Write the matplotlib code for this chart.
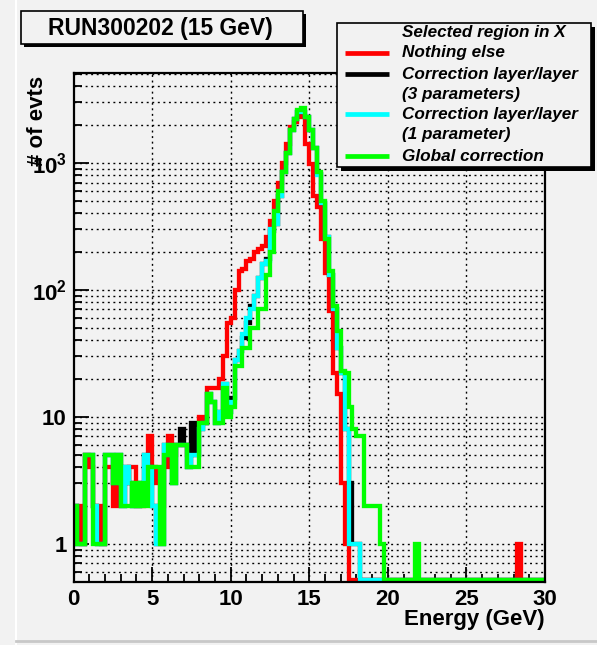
import numpy as np
import matplotlib
matplotlib.use("Agg")
import matplotlib.pyplot as plt
from matplotlib.patches import Rectangle
from matplotlib.lines import Line2D
from matplotlib.ticker import FixedLocator, FuncFormatter, NullFormatter

plt.rcParams["font.family"] = ["Liberation Sans", "DejaVu Sans"]
plt.rcParams["mathtext.fontset"] = "custom"
plt.rcParams["mathtext.rm"] = "Liberation Sans:bold"
plt.rcParams["mathtext.bf"] = "Liberation Sans:bold"
plt.rcParams["lines.scale_dashes"] = False

# Histogram binning (GeV): 120 bins of 0.25 GeV from 0 to 30
BIN_WIDTH = 0.25
FIRST_EDGE = 0.0

# Bin contents, one row per GeV (4 bins each)
nothing_else = [
    2, 2, 1, 5,          # 0-1
    4, 2, 2, 1,          # 1-2
    4, 4, 2, 3,          # 2-3
    3, 3, 4, 4,          # 3-4
    2, 2, 3, 7,          # 4-5
    4, 3, 2, 4,          # 5-6
    7, 5, 6, 6,          # 6-7
    6, 5, 6, 8,          # 7-8
    10, 9, 17, 17,       # 8-9
    17, 20, 30, 55,      # 9-10
    60, 100, 140, 145,   # 10-11
    170, 175, 200, 210,  # 11-12
    220, 260, 350, 500,  # 12-13
    700, 1000, 1400, 1900,   # 13-14
    2100, 2300, 2350, 1400,  # 14-15
    980, 550, 450, 250,  # 15-16
    135, 68, 22, 15,     # 16-17
    3, 1, 0, 0,          # 17-18
    0, 0, 0, 0,          # 18-19
    0, 0, 0, 0,          # 19-20
    0, 0, 0, 0,          # 20-21
    0, 0, 0, 0,          # 21-22
    0, 0, 0, 0,          # 22-23
    0, 0, 0, 0,          # 23-24
    0, 0, 0, 0,          # 24-25
    0, 0, 0, 0,          # 25-26
    0, 0, 0, 0,          # 26-27
    0, 0, 0, 0,          # 27-28
    0, 1, 0, 0,          # 28-29
    0, 0, 0, 0]          # 29-30

layer_3par = [
    2, 1, 1, 5,          # 0-1
    5, 2, 1, 1,          # 1-2
    5, 5, 3, 5,          # 2-3
    2, 4, 3, 2,          # 3-4
    2, 3, 5, 4,          # 4-5
    2, 1, 1, 6,          # 5-6
    5, 3, 6, 8,          # 6-7
    6, 4, 9, 5,          # 7-8
    8, 9, 15, 13,        # 8-9
    9, 11, 18, 11,       # 9-10
    14, 28, 33, 42,      # 10-11
    55, 75, 90, 125,     # 11-12
    160, 175, 290, 330,  # 12-13
    550, 850, 1200, 1800,    # 13-14
    2200, 2500, 2500, 2300,  # 14-15
    1800, 1300, 820, 480,    # 15-16
    260, 130, 70, 35,    # 16-17
    22, 8, 3, 1,         # 17-18
    1, 0, 0, 0,          # 18-19
    0, 0, 0, 0,          # 19-20
    0, 0, 0, 0,          # 20-21
    0, 0, 0, 0,          # 21-22
    0, 0, 0, 0,          # 22-23
    0, 0, 0, 0,          # 23-24
    0, 0, 0, 0,          # 24-25
    0, 0, 0, 0,          # 25-26
    0, 0, 0, 0,          # 26-27
    0, 0, 0, 0,          # 27-28
    0, 0, 0, 0,          # 28-29
    0, 0, 0, 0]          # 29-30

layer_1par = [
    2, 1, 1, 5,          # 0-1
    5, 2, 1, 1,          # 1-2
    5, 5, 3, 5,          # 2-3
    2, 4, 3, 2,          # 3-4
    2, 3, 5, 4,          # 4-5
    2, 1, 1, 6,          # 5-6
    5, 3, 6, 6,          # 6-7
    6, 4, 5, 5,          # 7-8
    8, 9, 15, 13,        # 8-9
    9, 11, 18, 11,       # 9-10
    13, 28, 33, 45,      # 10-11
    60, 70, 90, 125,     # 11-12
    160, 170, 300, 330,  # 12-13
    550, 850, 1200, 1800,    # 13-14
    2200, 2500, 2500, 2300,  # 14-15
    1800, 1300, 800, 480,    # 15-16
    260, 130, 70, 35,    # 16-17
    22, 8, 1, 1,         # 17-18
    1, 0, 0, 0,          # 18-19
    0, 0, 0, 0,          # 19-20
    0, 0, 0, 0,          # 20-21
    0, 0, 0, 0,          # 21-22
    0, 0, 0, 0,          # 22-23
    0, 0, 0, 0,          # 23-24
    0, 0, 0, 0,          # 24-25
    0, 0, 0, 0,          # 25-26
    0, 0, 0, 0,          # 26-27
    0, 0, 0, 0,          # 27-28
    0, 0, 0, 0,          # 28-29
    0, 0, 0, 0]          # 29-30

global_corr = [
    2, 1, 1, 5,          # 0-1
    5, 1, 1, 1,          # 1-2
    5, 5, 3, 5,          # 2-3
    2, 2, 2, 3,          # 3-4
    2, 3, 2, 4,          # 4-5
    4, 4, 1, 5,          # 5-6
    6, 3, 6, 6,          # 6-7
    6, 4, 4, 4,          # 7-8
    9, 9, 15, 13,        # 8-9
    9, 9, 17, 10,        # 9-10
    12, 25, 25, 35,      # 10-11
    35, 50, 50, 70,      # 11-12
    70, 130, 200, 420,   # 12-13
    600, 850, 1200, 1800,    # 13-14
    2200, 2600, 2700, 2300,  # 14-15
    1800, 1300, 850, 500,    # 15-16
    250, 140, 75, 47,    # 16-17
    23, 22, 12, 8,       # 17-18
    7, 7, 2, 2,          # 18-19
    2, 2, 1, 0,          # 19-20
    0, 0, 0, 0,          # 20-21
    0, 0, 0, 1,          # 21-22
    0, 0, 0, 0,          # 22-23
    0, 0, 0, 0,          # 23-24
    0, 0, 0, 0,          # 24-25
    0, 0, 0, 0,          # 25-26
    0, 0, 0, 0,          # 26-27
    0, 0, 0, 0,          # 27-28
    0, 0, 0, 0,          # 28-29
    0, 0, 0, 0]          # 29-30

series = [
    ("Nothing else", nothing_else, "#ff0000"),
    ("Correction layer/layer\n(3 parameters)", layer_3par, "#000000"),
    ("Correction layer/layer\n(1 parameter)", layer_1par, "#00ffff"),
    ("Global correction", global_corr, "#00ff00"),
]

x_ticks = [0, 5, 10, 15, 20, 25, 30]
y_tick_text = {1: "1", 10: "10", 100: r"$10^{2}$", 1000: r"$10^{3}$"}

BG = "#f2f2f2"
Y_MIN, Y_MAX = 0.5, 5100
ZERO_LEVEL = 0.515  # empty bins are drawn on the frame floor

W, H = 597, 645
fig = plt.figure(figsize=(W / 100, H / 100), dpi=100, facecolor=BG)


def fx(px):
    return px / W


def fy(py):
    return 1 - py / H


ax = fig.add_axes([fx(73.5), fy(582), fx(545) - fx(73.5), fy(73) - fy(582)])
ax.set_facecolor(BG)
ax.set_xlim(0, 30)
ax.set_yscale("log")
ax.set_ylim(Y_MIN, Y_MAX)

# dotted grid: x majors, every log-decade subdivision on y
grid_kw = dict(color="black", linewidth=1.0, linestyle=(0, (1.4, 2.6)), zorder=0.5)
for xv in x_ticks[1:-1]:
    ax.axvline(xv, **grid_kw)
for dec in [0.1, 1, 10, 100, 1000]:
    for m in range(1, 10):
        yv = dec * m
        if Y_MIN < yv < Y_MAX:
            ax.axhline(yv, **grid_kw)

n_bins = len(global_corr)
edges = FIRST_EDGE + BIN_WIDTH * np.arange(n_bins + 1)
for name, vals, col in series:
    v = np.asarray(vals, dtype=float)
    v = np.where(v > 0, v, ZERO_LEVEL)
    sp = ax.stairs(v, edges, baseline=None, color=col, linewidth=3.1, zorder=2)
    sp.set_joinstyle("miter")
    sp.set_capstyle("butt")

# axes frame and ticks
for s in ax.spines.values():
    s.set_linewidth(1.6)
    s.set_zorder(5)
ax.xaxis.set_major_locator(FixedLocator(x_ticks))
ax.xaxis.set_minor_locator(FixedLocator(np.arange(0, 31, 1)))
ax.yaxis.set_major_locator(FixedLocator(list(y_tick_text.keys())))
minor_y = [d * m for d in [0.1, 1, 10, 100, 1000] for m in range(2, 10) if Y_MIN <= d * m <= Y_MAX]
ax.yaxis.set_minor_locator(FixedLocator(minor_y))
ax.yaxis.set_major_formatter(FuncFormatter(lambda v, p: y_tick_text.get(int(round(v)), "")))
ax.yaxis.set_minor_formatter(NullFormatter())
ax.tick_params(axis="both", which="major", direction="in", length=11, width=1.3,
               labelsize=16, pad=5, top=False, right=False)
ax.tick_params(axis="both", which="minor", direction="in", length=6, width=1.3,
               top=False, right=False)
for lab in ax.get_xticklabels() + ax.get_yticklabels():
    lab.set_fontweight("bold")

ax.set_xlabel("Energy (GeV)", fontsize=16, fontweight="bold", ha="right", va="center")
ax.xaxis.set_label_coords(1.0, -0.073)
ax.set_ylabel("# of evts", fontsize=16, fontweight="bold", ha="center", va="center")
ax.yaxis.set_label_coords(-0.076, 0.905)


# boxes with a drop shadow
def shadow_box(x0, y0, x1, y1, off):
    fig.add_artist(Rectangle((fx(x0 + off), fy(y1 + off)), fx(x1 - x0), fy(y0) - fy(y1),
                             transform=fig.transFigure, facecolor="black", edgecolor="none", zorder=8))
    fig.add_artist(Rectangle((fx(x0), fy(y1)), fx(x1 - x0), fy(y0) - fy(y1),
                             transform=fig.transFigure, facecolor=BG, edgecolor="black",
                             linewidth=1.2, zorder=9))


shadow_box(21, 11.5, 303, 44.4, 3)
fig.text(fx(160), fy(28.5), "RUN300202 (15 GeV)", fontsize=16.5, fontweight="bold",
         ha="center", va="center", zorder=10)

# legend
shadow_box(337, 22.6, 591, 167, 4)
fig.text(fx(402), fy(32), "Selected region in X", fontsize=12.3, fontweight="bold",
         style="italic", ha="left", va="center", zorder=10)
text_rows = [52.7, 74, 114.4, 156.3]
for (name, vals, col), ty in zip(series, text_rows):
    fig.add_artist(Line2D([fx(345), fx(389)], [fy(ty), fy(ty)], transform=fig.transFigure,
                          color=col, linewidth=3.4, solid_capstyle="butt", zorder=10))
    for k, ln in enumerate(name.split("\n")):
        fig.text(fx(402), fy(ty + 20.5 * k), ln, fontsize=12.3, fontweight="bold",
                 style="italic", ha="left", va="center", zorder=10)

# canvas bevel
fig.add_artist(Line2D([fx(15.5), fx(15.5)], [0, 1], transform=fig.transFigure, color="white", linewidth=1.5))
fig.add_artist(Line2D([fx(15.5), 1], [fy(641), fy(641)], transform=fig.transFigure, color="#c8c8c8", linewidth=2))

fig.savefig("out.png", dpi=100, facecolor=BG)
